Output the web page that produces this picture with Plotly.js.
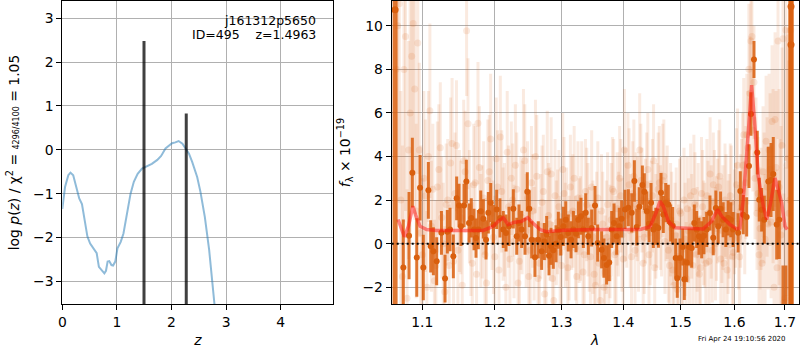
<!DOCTYPE html>
<html><head><meta charset="utf-8">
<script src="https://cdn.plot.ly/plotly-3.0.1.min.js"></script>
<style>html,body{margin:0;padding:0;background:#fff}#chart{width:800px;height:350px}</style>
</head><body><div id="chart"></div>
<script>
// ---------- left panel: log p(z) ----------
const pzZ = [0,0.05,0.11,0.15,0.20,0.26,0.31,0.36,0.42,0.46,
  0.51,0.57,0.63,0.67,0.72,0.77,0.80,0.83,0.86,0.90,
  0.93,0.97,1.01,1.07,1.12,1.18,1.25,1.31,1.38,1.46,
  1.55,1.64,1.74,1.81,1.89,1.95,2.01,2.07,2.13,2.20,
  2.26,2.32,2.38,2.47,2.53,2.61,2.69,2.73,2.78,2.84];
const pzV = [-1.35,-0.85,-0.58,-0.52,-0.58,-0.85,-1.11,-1.24,-1.68,-1.98,
  -2.14,-2.25,-2.36,-2.67,-2.74,-2.82,-2.76,-2.55,-2.54,-2.63,
  -2.64,-2.55,-2.25,-2.10,-1.91,-1.45,-1.0,-0.73,-0.55,-0.43,
  -0.38,-0.32,-0.23,-0.14,0.03,0.10,0.15,0.17,0.20,0.14,
  0.02,-0.09,-0.28,-0.62,-0.96,-1.53,-2.29,-2.82,-3.52,-4.2];
const peakZ = [1.4963, 2.27];
const peakTop = [2.48, 0.83];

// ---------- right panel: spectrum ----------
const modelL = [1.0684,1.0765,1.0818,1.0876,1.0917,1.0970,1.1058,1.1192,1.1836,1.1979,
  1.2048,1.2123,1.2193,1.2290,1.2393,1.2482,1.2568,1.2669,1.2771,1.3029,
  1.3567,1.4285,1.4458,1.4563,1.4632,1.4690,1.4779,1.4897,1.5413,1.5569,
  1.5679,1.5756,1.5914,1.6043,1.6107,1.6171,1.6268,1.6334,1.6399,1.6465,1.6564,
  1.6631,1.6697,1.6798,1.6865,1.6933,1.7001,1.7048];
const modelV = [1.11,0.32,0.8,1.72,1.26,0.8,0.65,0.61,0.61,0.8,
  1.03,1.19,0.88,0.99,1.03,1.19,0.93,0.65,0.55,0.62,
  0.65,0.65,0.78,1.42,1.95,1.72,1.03,0.73,0.68,1.03,
  1.57,1.26,0.88,0.68,0.72,2.02,5.07,7.27,5.37,3.09,1.72,
  1.11,1.72,3.01,2.48,1.87,0.8,0.65];

const darkL = [1.0752,1.0826,1.0869,1.0927,1.0970,1.1013,1.1080,1.1111,1.1147,1.1191,
  1.1255,1.1304,1.1335,1.1372,1.1417,1.1463,1.1495,1.1523,1.1565,1.1597,
  1.1634,1.1666,1.1704,1.1732,1.1765,1.1799,1.1836,1.1874,1.1907,1.1941,
  1.1979,1.2027,
  1.2075,1.2123,1.2163,1.2206,1.2270,1.2320,1.2353,1.2393,1.2443,1.2477,
  1.2507,1.2543,1.2593,1.2643,1.2694,1.2735,1.2771,1.2807,1.2837,1.2873,
  1.2915,1.2951,1.2988,1.3029,1.3067,1.3107,1.3150,1.3187,1.3229,1.3266,
  1.3308,1.3346,1.3384,1.3426,1.3480,1.3534,1.3577,
  1.3642,1.3680,1.3724,1.3767,1.3808,1.3846,1.3891,1.3934,1.3974,1.4030,
  1.4087,1.4144,1.4189,1.4230,1.4274,1.4326,1.4360,1.4402,1.4441,1.4476,
  1.4516,1.4558,1.4604,1.4650,1.4690,1.4733,1.4779,1.4821,1.4857,1.4911,
  1.4939,1.4988,1.5037,1.5066,1.5109,1.5151,1.5200,1.5247,1.5291,1.5333,
  1.5383,1.5425,
  1.5476,1.5537,1.5598,1.5648,1.5691,1.5736,1.5785,1.5836,1.5880,1.5931,
  1.5975,1.6071,1.6113,1.6171,1.6237,1.6282,1.6321,1.6380,1.6445,1.6484,
  1.6532,1.6584,1.6664,1.6718,1.6764,1.6833,1.6885,1.6960,1.7020];
const darkV = [-1.09,0.37,3.26,-0.63,2.57,-1.09,2.45,-0.12,-0.35,-0.8,
  0.5,-1.6,0.55,0.65,-0.58,2.08,1.75,0.8,1.75,2.85,
  0.95,1.18,0.65,0.26,0.65,1.49,1.14,0.18,1.42,1.88,
  0.88,1.57,
  1.18,0.65,0.49,0.8,1.6,0.34,0.95,0.65,0.34,2.38,
  1.6,0.18,-0.62,0.18,-0.35,0.1,0.42,-0.55,-0.12,-0.3,
  0,0.62,0.31,0.8,1.1,0.49,0.18,0.65,0.46,1.1,
  1.26,0.65,1.42,0.34,0.72,1.75,0.03,
  -0.28,-0.66,-0.97,-0.86,0.65,0.95,0.34,0.8,1.14,1.57,
  1.65,1.42,2.88,0.77,1.69,2.69,2.38,1.49,0.92,1.88,
  0.65,0.8,0.72,2.34,1.34,1.88,1.8,0.95,0.83,-0.66,
  -1.58,-0.66,-0.15,-1.63,-0.86,-0.15,-0.2,0.95,0.65,0.34,
  0.18,0.37,
  0.65,1.41,0.27,1.64,0.8,1.6,1.1,0.65,1.18,1.1,
  0.65,0.5,2.42,1.33,1.23,3.56,5.95,8.45,4.18,2.02,
  1.56,1.1,2.85,2.92,3.2,0.88,1.1,-3.5,-4.0];
const darkE = [2.2,2.0,1.6,1.8,1.5,1.5,1.3,1.2,1.1,1.1,
  1.0,1.1,1.0,1.0,1.0,1.0,1.0,0.9,1.0,1.0,
  0.9,0.9,0.95,0.9,0.9,0.95,0.9,0.9,0.95,0.9,
  0.9,0.9,
  0.9,0.85,0.85,0.9,0.9,0.85,0.85,0.85,0.85,0.9,
  0.85,0.85,0.9,0.85,0.85,0.85,0.85,0.9,0.85,0.85,
  0.85,0.85,0.85,0.9,0.85,0.85,0.85,0.85,0.85,0.85,
  0.85,0.85,0.9,0.85,0.85,0.9,0.85,
  0.85,0.9,0.9,0.85,0.85,0.9,0.85,0.85,0.85,0.9,
  0.85,0.9,0.95,0.85,0.9,0.9,0.85,0.9,0.85,0.9,
  0.85,0.85,0.9,0.9,0.85,0.9,0.9,0.85,0.85,0.9,
  0.9,0.9,0.85,0.95,0.9,0.85,0.9,0.85,0.85,0.85,
  0.85,0.85,
  0.8,0.8,0.8,0.8,0.8,0.8,0.8,0.8,0.8,0.8,
  0.8,0.9,0.9,0.9,0.9,1.0,1.0,0.85,1.0,1.0,
  1.0,1.1,1.6,1.7,1.7,1.6,1.8,2.5,3.0];

const edgeL = [1.0646, 1.7125, 1.7125];
const edgeV = [10.73, 9.13, 10.88];
const edgeE = [30, 30, 30];

const faintAL = [1.066,1.070,1.074,1.078,1.082,1.086,1.090,1.094,1.098,1.102,
  1.106,1.110,1.114,1.118,1.122,1.126,1.130,1.134,1.138,1.142,
  1.146,1.150,1.154,1.158,1.162,1.166,1.170,1.174,1.178,1.182,
  1.186,1.190,1.194,1.198,1.202,1.206,1.210,1.214,1.218,1.222,
  1.226,1.230,1.234,1.238,1.242,1.246,1.250,1.254,1.258,1.262,
  1.266,1.270,1.274,1.278,1.282,1.286,1.290,1.294,1.298,1.302,
  1.306,1.310,1.314,1.318,1.322,1.326,1.330,1.334,1.338,1.342,
  1.346,1.350,1.354,1.358,1.362,1.366,1.370,1.374,1.378,1.382,
  1.386,1.390,1.394,1.398,1.402,1.406,1.410,1.414,1.418,1.422,
  1.426,1.430,1.434,1.438,1.442,1.446,1.450,1.454,1.458,1.462,
  1.466,1.470,1.474,1.478,1.482,1.486,1.490,1.494,1.498,1.502,
  1.506,1.510,1.514,1.518,1.522,1.526,1.530,1.534,1.538,1.542,
  1.546,1.550,1.554,1.558,1.562,1.566,1.570,1.574,1.578,1.582,
  1.586,1.590,1.594,1.598,1.602,1.606,1.610,1.614,1.618,1.622,
  1.626,1.630,1.634,1.638,1.642,1.646,1.650,1.654,1.658,1.662,
  1.666,1.670,1.674,1.678,1.682,1.686,1.690,1.694,1.698,1.702,
  1.706,1.710];
const faintAV = [8.0,11.0,-1.5,9.5,4.3,8.6,7.1,9.2,0.5,3.0,
  -2.0,6.1,2.5,-1.0,3.4,1.2,-2.2,2.0,3.7,-0.8,
  4.5,1.5,-1.9,3.3,5.5,0.2,2.7,-1.4,3.5,1.0,
  -0.5,2.9,4.8,0.3,3.9,-1.2,2.4,1.1,4.2,-0.7,
  2.0,3.6,-1.8,1.4,4.3,0.6,-1.5,2.8,0.0,3.1,
  -0.9,1.9,-2.3,3.3,0.9,-1.6,2.2,1.0,-0.4,3.4,
  0.4,-1.1,2.6,1.5,-0.2,2.1,0.7,-1.3,2.4,1.1,
  -0.6,0.3,-1.9,2.1,-2.6,0.9,-1.3,1.8,0.1,2.5,
  -0.5,1.6,3.0,0.4,4.3,1.3,2.7,-0.6,3.1,1.8,
  0.2,2.9,-0.9,1.5,3.4,0.5,2.2,-1.1,1.3,2.8,
  0.9,3.1,1.6,-0.3,1.1,-1.2,0.4,-2.1,1.5,-0.8,
  2.0,-1.6,0.6,2.2,-1.0,1.8,0.2,-1.4,2.3,0.5,
  -0.9,1.4,3.2,-0.3,1.9,0.7,2.6,-0.7,1.2,2.0,
  -1.2,0.8,1.9,-0.4,1.3,3.6,-0.6,2.4,5.0,2.8,
  4.4,6.9,9.5,7.4,4.1,2.3,0.7,-0.9,2.1,4.7,
  0.9,3.4,5.6,-2.0,3.5,9.3,0.8,4.5,-2.7,9.8,
  3.9,2.0];
const faintAE = [8,9,6,8,5,7,6,6,4,4,
  3.5,4,3,3,3,2.8,3,2.8,3,2.8,
  3,2.8,2.6,2.8,3,2.6,2.8,2.6,2.8,2.6,
  2.6,2.8,3,2.6,2.8,2.6,2.8,2.6,2.8,2.6,
  2.6,2.8,2.6,2.6,2.8,2.6,2.6,2.6,2.6,2.8,
  2.6,2.6,2.6,2.8,2.6,2.6,2.6,2.4,2.6,2.6,
  2.4,2.6,2.4,2.6,2.4,2.6,2.4,2.6,2.4,2.6,
  2.4,2.6,2.4,2.6,2.6,2.4,2.6,2.4,2.6,2.4,
  2.4,2.6,2.4,2.6,2.8,2.4,2.6,2.4,2.6,2.4,
  2.4,2.6,2.4,2.4,2.6,2.4,2.6,2.4,2.4,2.6,
  2.4,2.6,2.4,2.4,2.6,2.4,2.4,2.6,2.4,2.4,
  2.4,2.6,2.4,2.4,2.6,2.4,2.4,2.4,2.6,2.4,
  2.4,2.4,2.6,2.4,2.4,2.4,2.6,2.4,2.4,2.6,
  2.4,2.4,2.6,2.4,2.4,2.6,2.4,2.4,2.6,2.6,
  2.6,2.6,2.8,2.6,2.6,2.6,2.8,2.8,3,3,
  3,3.5,3.5,4,3.5,4.5,4,4.5,5,6,
  6,7];

const faintBL = [1.068,1.072,1.076,1.080,1.084,1.088,1.092,1.096,1.100,1.104,
  1.108,1.112,1.116,1.120,1.124,1.128,1.132,1.136,1.140,1.144,
  1.148,1.152,1.156,1.160,1.164,1.168,1.172,1.176,1.180,1.184,
  1.188,1.192,1.196,1.200,1.204,1.208,1.212,1.216,1.220,1.224,
  1.228,1.232,1.236,1.240,1.244,1.248,1.252,1.256,1.260,1.264,
  1.268,1.272,1.276,1.280,1.284,1.288,1.292,1.296,1.300,1.304,
  1.308,1.312,1.316,1.320,1.324,1.328,1.332,1.336,1.340,1.344,
  1.348,1.352,1.356,1.360,1.364,1.368,1.372,1.376,1.380,1.384,
  1.388,1.392,1.396,1.400,1.404,1.408,1.412,1.416,1.420,1.424,
  1.428,1.432,1.436,1.440,1.444,1.448,1.452,1.456,1.460,1.464,
  1.468,1.472,1.476,1.480,1.484,1.488,1.492,1.496,1.500,1.504,
  1.508,1.512,1.516,1.520,1.524,1.528,1.532,1.536,1.540,1.544,
  1.548,1.552,1.556,1.560,1.564,1.568,1.572,1.576,1.580,1.584,
  1.588,1.592,1.596,1.600,1.604,1.608,1.612,1.616,1.620,1.624,
  1.628,1.632,1.636,1.640,1.644,1.648,1.652,1.656,1.660,1.664,
  1.668,1.672,1.676,1.680,1.684,1.688,1.692,1.696,1.700,1.704,
  1.708,1.712];
const faintBV = [10.0,2.0,7.99,-2.5,6.0,10.1,1.5,4.3,-0.5,2.2,
  4.0,0.8,-1.7,2.6,4.4,0.0,1.8,-1.0,4.6,2.3,
  -0.3,1.2,3.8,9.77,1.7,-0.9,2.8,5.53,0.6,2.1,
  -1.8,3.3,1.4,-0.6,2.6,4.9,0.9,-2.0,1.7,3.0,
  0.1,2.5,-0.8,1.2,3.8,2.1,-0.3,1.5,4.0,-1.6,
  0.8,2.4,-0.6,1.3,3.2,-2.6,0.5,1.7,-1.0,2.3,
  0.9,-0.2,1.4,3.0,-1.5,0.6,2.1,-0.5,1.8,0.2,
  2.6,-1.4,0.7,-0.9,1.5,-2.0,0.3,-1.6,1.1,2.4,
  -0.4,0.9,2.2,-0.7,1.8,3.6,0.6,2.3,-0.3,1.6,
  4.3,2.0,0.3,2.7,-0.5,1.4,3.8,0.8,2.5,1.2,
  2.9,0.1,1.9,-1.0,0.7,-1.9,0.9,-0.6,1.4,-1.8,
  0.2,1.6,-0.9,0.8,2.4,-0.5,1.1,-1.1,1.7,0.4,
  2.2,-0.8,1.0,2.7,0.0,1.5,3.1,0.6,-0.9,1.7,
  0.3,2.2,-0.6,1.0,2.7,0.3,1.5,3.6,1.2,5.0,
  8.0,9.3,5.2,3.0,1.4,-0.5,1.6,3.3,0.2,2.6,
  4.3,1.0,3.1,5.7,-1.1,2.6,0.4,9.4,-2.5,3.6,
  1.4,9.8];
const faintBE = [9,5,7,5,6,7,4,4,3.5,3.5,
  3,3,2.8,3,3,2.8,2.8,2.8,3,2.8,
  2.8,2.6,2.8,3,2.6,2.8,2.6,2.8,2.6,2.6,
  2.8,2.6,2.6,2.8,2.6,2.8,2.6,2.6,2.8,2.6,
  2.6,2.6,2.8,2.6,2.6,2.6,2.8,2.6,2.6,2.6,
  2.4,2.6,2.6,2.4,2.6,2.6,2.4,2.6,2.4,2.6,
  2.6,2.4,2.6,2.4,2.6,2.4,2.6,2.4,2.6,2.4,
  2.6,2.4,2.6,2.4,2.6,2.4,2.6,2.4,2.6,2.4,
  2.6,2.4,2.6,2.4,2.6,2.4,2.6,2.4,2.6,2.4,
  2.6,2.4,2.6,2.4,2.6,2.4,2.6,2.4,2.6,2.4,
  2.6,2.4,2.6,2.4,2.6,2.4,2.6,2.4,2.6,2.4,
  2.6,2.4,2.6,2.4,2.6,2.4,2.6,2.4,2.6,2.4,
  2.6,2.4,2.6,2.4,2.6,2.4,2.6,2.4,2.6,2.4,
  2.6,2.4,2.6,2.4,2.6,2.4,2.6,2.4,2.6,2.8,
  3,3,2.8,2.8,2.6,2.8,2.8,3,3,3.2,
  3.5,3.5,4,4,4.5,4.5,5,5,6,6,
  7,8];

const lamTicks = [1.1,1.2,1.3,1.4,1.5,1.6,1.7];
const lamTickText = ["1.1","1.2","1.3","1.4","1.5","1.6","1.7"];

// ---------- build ----------
const F = 'DejaVu Sans';
const orange = '#d95f0e';
const faintCol = 'rgba(217,95,14,0.13)';
const pzRange = [-3.518, 3.395];

const peakX = [], peakY = [];
peakZ.forEach((z, i) => { peakX.push(z, z, null); peakY.push(pzRange[0] - 1, peakTop[i], null); });

const traces = [
  {x: pzZ, y: pzV, xaxis: 'x', yaxis: 'y', mode: 'lines', line: {color: 'rgba(31,119,180,0.5)', width: 2}, hoverinfo: 'skip'},
  {x: peakX, y: peakY, xaxis: 'x', yaxis: 'y', mode: 'lines', line: {color: 'rgba(0,0,0,0.75)', width: 3}, hoverinfo: 'skip'},
  {x: faintAL, y: faintAV, xaxis: 'x2', yaxis: 'y2', mode: 'markers',
   marker: {color: faintCol, size: 7}, error_y: {type: 'data', array: faintAE, color: faintCol, thickness: 3, width: 0}},
  {x: faintBL, y: faintBV, xaxis: 'x2', yaxis: 'y2', mode: 'markers',
   marker: {color: faintCol, size: 7}, error_y: {type: 'data', array: faintBE, color: faintCol, thickness: 3, width: 0}},
  {x: darkL, y: darkV, xaxis: 'x2', yaxis: 'y2', mode: 'markers',
   marker: {color: orange, size: 6}, error_y: {type: 'data', array: darkE, color: 'rgba(217,95,14,0.85)', thickness: 3, width: 0}},
  {x: edgeL, y: edgeV, xaxis: 'x2', yaxis: 'y2', mode: 'markers',
   marker: {color: orange, size: 7}, error_y: {type: 'data', array: edgeE, color: 'rgba(217,95,14,0.85)', thickness: 5, width: 0}},
  {x: modelL, y: modelV, xaxis: 'x2', yaxis: 'y2', mode: 'lines', line: {color: 'rgba(255,20,20,0.5)', width: 3.5}}
];

const axBase = {
  showline: true, mirror: true, linecolor: '#000', linewidth: 1,
  ticks: 'outside', ticklen: 5, tickwidth: 1, tickcolor: '#000',
  showgrid: true, gridcolor: '#b0b0b0', gridwidth: 1, zeroline: false,
  tickfont: {family: F, size: 13.9, color: '#000'}, automargin: false
};

const layout = {
  width: 800, height: 350,
  margin: {l: 0, r: 0, t: 0, b: 0},
  paper_bgcolor: '#fff', plot_bgcolor: '#fff',
  showlegend: false, hovermode: false,
  font: {family: F, color: '#000'},
  xaxis: Object.assign({}, axBase, {domain: [62.3/800, 333.3/800], anchor: 'y', range: [0, 4.963],
    tickvals: [0,1,2,3,4], title: {text: '<i>z</i>', font: {family: F, size: 13.9}, standoff: 6}}),
  yaxis: Object.assign({}, axBase, {domain: [1 - 304/350, 1 - 1/350], anchor: 'x', range: pzRange,
    tickvals: [-3,-2,-1,0,1,2,3],
    title: {text: 'log <i>p</i>(<i>z</i>) / χ<sup>2</sup> = <span style="font-size:8px">4296/4100</span> = 1.05', font: {family: F, size: 13.9}, standoff: 10}}),
  xaxis2: Object.assign({}, axBase, {domain: [391.7/800, 798.5/800], anchor: 'y2', type: 'log',
    range: [0.02542, 0.23753], tickvals: lamTicks, ticktext: lamTickText,
    title: {text: '<i>λ</i>', font: {family: F, size: 13.9}, standoff: 6}}),
  yaxis2: Object.assign({}, axBase, {domain: [1 - 304/350, 1 - 1/350], anchor: 'x2', range: [-2.764, 11.131],
    tickvals: [-2,0,2,4,6,8,10],
    title: {text: '<i>f</i><sub>λ</sub> × 10<sup>−19</sup>', font: {family: F, size: 13.9}, standoff: 8}}),
  shapes: [
    {type: 'line', xref: 'x2 domain', x0: 0, x1: 1, yref: 'y2', y0: 0, y1: 0,
     line: {color: '#000', width: 2, dash: '2px,3px'}, layer: 'above'}
  ],
  annotations: [
    {xref: 'paper', yref: 'paper', x: 318/800, y: 1 - 20/350, xanchor: 'right', yanchor: 'middle',
     showarrow: false, text: 'j161312p5650', font: {family: F, size: 12.5, color: '#000'}},
    {xref: 'paper', yref: 'paper', x: 318/800, y: 1 - 34/350, xanchor: 'right', yanchor: 'middle',
     showarrow: false, text: 'ID=495\u00a0\u00a0\u00a0\u00a0z=1.4963', font: {family: F, size: 12.5, color: '#000'}},
    {xref: 'paper', yref: 'paper', x: 788/800, y: 1 - 339/350, xanchor: 'right', yanchor: 'middle',
     showarrow: false, text: 'Fri Apr 24 19:10:56 2020', font: {family: F, size: 7, color: '#000'}}
  ]
};

Plotly.newPlot('chart', traces, layout, {displayModeBar: false, staticPlot: true});
</script></body></html>
